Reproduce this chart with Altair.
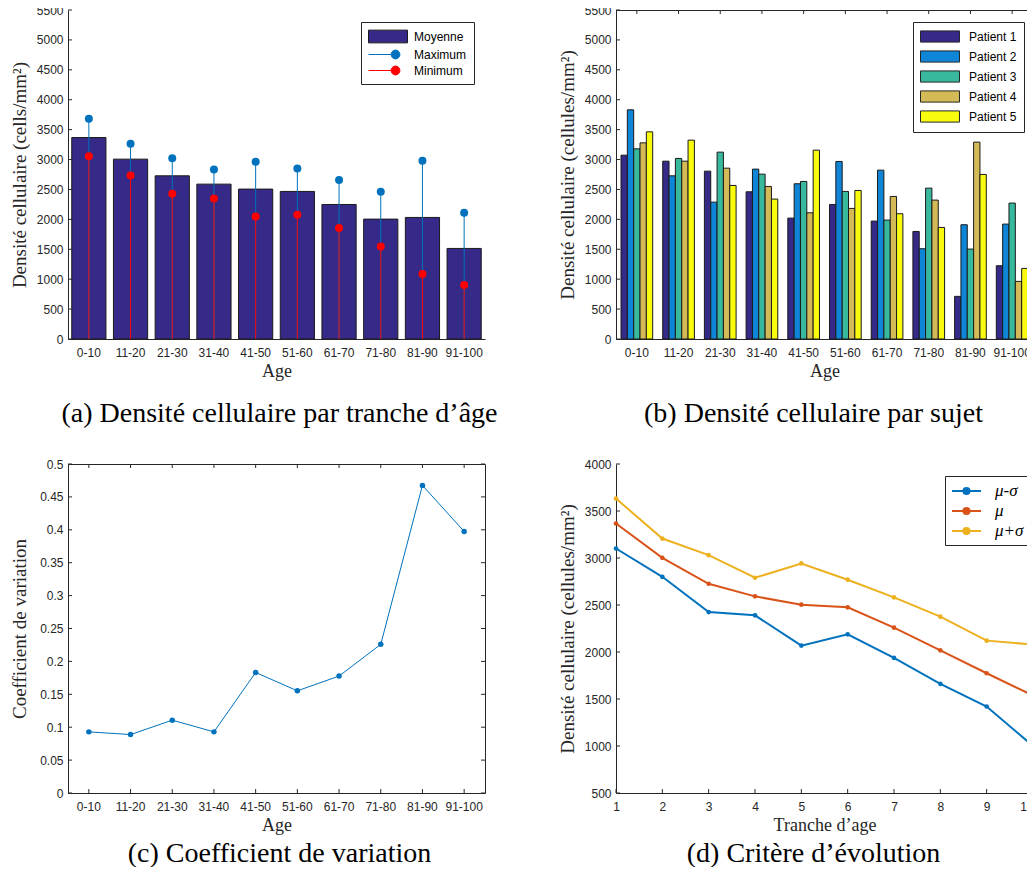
import altair as alt
import pandas as pd

# ---------------- data ----------------
ages = ["0-10", "11-20", "21-30", "31-40", "41-50", "51-60", "61-70", "71-80", "81-90", "91-100"]

moyenne = [3368, 3007, 2728, 2589, 2506, 2467, 2249, 2004, 2032, 1514]
maximum = [3680, 3263, 3023, 2834, 2962, 2851, 2656, 2461, 2979, 2110]
minimum = [3057, 2734, 2428, 2350, 2049, 2077, 1854, 1548, 1086, 902]

patients = ["Patient 1", "Patient 2", "Patient 3", "Patient 4", "Patient 5"]
p1 = [3073, 2973, 2806, 2461, 2021, 2249, 1971, 1798, 713, 1225]
p2 = [3831, 2728, 2288, 2840, 2595, 2968, 2823, 1509, 1910, 1921]
p3 = [3179, 3018, 3124, 2756, 2634, 2467, 1988, 2522, 1503, 2272]
p4 = [3279, 2973, 2856, 2550, 2110, 2183, 2383, 2322, 3291, 963]
p5 = [3463, 3324, 2567, 2339, 3157, 2483, 2094, 1865, 2751, 1180]

cv = [0.0929, 0.0888, 0.1107, 0.0929, 0.1832, 0.1553, 0.1777, 0.2259, 0.4675, 0.3975]

tranches = [1, 2, 3, 4, 5, 6, 7, 8, 9, 10]
mu_moins = [3101, 2800, 2425, 2390, 2068, 2188, 1937, 1661, 1420, 1000]
mu = [3367, 3002, 2726, 2592, 2503, 2475, 2259, 2018, 1774, 1537]
mu_plus = [3632, 3207, 3030, 2790, 2942, 2769, 2581, 2376, 2121, 2079]

series_a = ["Moyenne", "Maximum", "Minimum"]
series_d = ["μ-σ", "μ", "μ+σ"]

yticks_a = list(range(0, 5501, 500))
yticks_c = [round(0.05 * i, 2) for i in range(11)]
yticks_d = list(range(500, 4001, 500))

# ---------------- style ----------------
AX = "#262626"
W, H = 417, 329
SANS = "Liberation Sans"
SERIF = "Liberation Serif"
TL = 4  # inward tick length

PARULA5 = ["#352a87", "#0f85d7", "#38b99e", "#d4ba56", "#f9fb0e"]
BLUE, ORANGE, YELLOW = "#0072bd", "#d95319", "#edb120"
COLS_D = [BLUE, ORANGE, YELLOW]

# legend symbol paths (unit = sqrt(symbolSize)/2 px), extending to the right of the nominal square
RECT_A = "M-1,-0.91L4.57,-0.91L4.57,0.91L-1,0.91Z"
STEM = "M-1,0L2.86,0M3.49,0A0.63,0.63 0 1 1 2.23,0A0.63,0.63 0 1 1 3.49,0Z"
RECT_B = "M-1,-0.8L4.57,-0.8L4.57,0.8L-1,0.8Z"
LINEDOT = "M-1,0L2.63,0M1.19,0A0.38,0.38 0 1 1 0.43,0A0.38,0.38 0 1 1 1.19,0Z"


def xaxis(title, **kw):
    return alt.Axis(title=title, labelAngle=0, ticks=False, labelPadding=8,
                    titlePadding=4, titleFontSize=18, **kw)


def yaxis(title, values, **kw):
    return alt.Axis(title=title, values=values, ticks=False, labelPadding=5,
                    titlePadding=7, titleFontSize=19, minExtent=32, maxExtent=32, **kw)


def left_ticks(vals, scale, ax):
    d = pd.DataFrame({"t": vals})
    return alt.Chart(d).mark_rule(color=AX, strokeWidth=1).encode(
        y=alt.Y("t:Q", scale=scale, axis=ax), x=alt.value(0), x2=alt.value(TL))


def right_ticks(vals, scale, ax):
    d = pd.DataFrame({"t": vals})
    return alt.Chart(d).mark_rule(color=AX, strokeWidth=1).encode(
        y=alt.Y("t:Q", scale=scale, axis=ax), x=alt.value(W), x2=alt.value(W - TL))


def top_ticks(vals, scale, ax, typ="N"):
    d = pd.DataFrame({"t": vals})
    return alt.Chart(d).mark_rule(color=AX, strokeWidth=1).encode(
        x=alt.X(f"t:{typ}", scale=scale, axis=ax, sort=None), y=alt.value(0), y2=alt.value(TL))


def bottom_ticks(vals, scale, ax, typ="N"):
    d = pd.DataFrame({"t": vals})
    return alt.Chart(d).mark_rule(color=AX, strokeWidth=1).encode(
        x=alt.X(f"t:{typ}", scale=scale, axis=ax, sort=None), y=alt.value(H), y2=alt.value(H - TL))


def caption(text, dx, offset):
    return alt.TitleParams(text=text, orient="bottom", anchor="middle", frame="group",
                           font=SERIF, fontSize=28, fontWeight="normal", color="black",
                           offset=offset, dx=dx)


# ---------------- panel (a) ----------------
df_a = pd.DataFrame({"age": ages, "moyenne": moyenne, "maximum": maximum, "minimum": minimum})
xs_a = alt.Scale(domain=ages, paddingInner=0.18, paddingOuter=0.09)
ys_a = alt.Scale(domain=[0, 5500], nice=False)
xa_a = xaxis("Age")
ya_a = yaxis("Densité cellulaire (cells/mm²)", yticks_a, format="d")

bars_a = alt.Chart(df_a).mark_bar(color="#352a87", stroke="#1a1a1a", strokeWidth=1).encode(
    x=alt.X("age:N", scale=xs_a, sort=ages, axis=xa_a),
    y=alt.Y("moyenne:Q", scale=ys_a, axis=ya_a))
stem_max = alt.Chart(df_a).mark_rule(color=BLUE, strokeWidth=1).encode(
    x=alt.X("age:N", scale=xs_a, sort=ages, axis=xa_a),
    y=alt.Y("maximum:Q", scale=ys_a, axis=ya_a), y2=alt.datum(0))
stem_min = alt.Chart(df_a).mark_rule(color="#ff0000", strokeWidth=1).encode(
    x=alt.X("age:N", scale=xs_a, sort=ages, axis=xa_a),
    y=alt.Y("minimum:Q", scale=ys_a, axis=ya_a), y2=alt.datum(0))
dot_max = alt.Chart(df_a).mark_circle(color=BLUE, size=64, opacity=1).encode(
    x=alt.X("age:N", scale=xs_a, sort=ages, axis=xa_a),
    y=alt.Y("maximum:Q", scale=ys_a, axis=ya_a))
dot_min = alt.Chart(df_a).mark_circle(color="#ff0000", size=64, opacity=1).encode(
    x=alt.X("age:N", scale=xs_a, sort=ages, axis=xa_a),
    y=alt.Y("minimum:Q", scale=ys_a, axis=ya_a))

leg_a = alt.Legend(title=None, orient="none", legendX=293, legendY=12, symbolSize=196,
                   symbolOpacity=1, symbolStrokeWidth=1, labelFont=SANS, labelFontSize=12,
                   labelColor="black", labelOffset=31, padding=7, rowPadding=2,
                   fillColor="white", strokeColor=AX, cornerRadius=0)
legend_layer_a = alt.Chart(pd.DataFrame({"serie": series_a})).mark_point(filled=True, opacity=0).encode(
    x=alt.value(W / 2), y=alt.value(H / 2),
    fill=alt.Fill("serie:N", scale=alt.Scale(domain=series_a, range=["#352a87", BLUE, "#ff0000"]),
                  legend=leg_a, sort=series_a),
    stroke=alt.Stroke("serie:N", scale=alt.Scale(domain=series_a, range=["#1a1a1a", BLUE, "#ff0000"]),
                      legend=leg_a, sort=series_a),
    shape=alt.Shape("serie:N", scale=alt.Scale(domain=series_a, range=[RECT_A, STEM, STEM]),
                    legend=leg_a, sort=series_a))

chart_a = alt.layer(bars_a, stem_max, stem_min, dot_max, dot_min, left_ticks(yticks_a, ys_a, ya_a),
                    legend_layer_a).properties(
    width=W, height=H, title=caption("(a) Densité cellulaire par tranche d’âge", 3, 20))

# ---------------- panel (b) ----------------
rows_b = []
for i, a in enumerate(ages):
    for name, vals in zip(patients, [p1, p2, p3, p4, p5]):
        rows_b.append({"age": a, "patient": name, "val": vals[i]})
df_b = pd.DataFrame(rows_b)
xs_b = alt.Scale(domain=ages, paddingInner=0.24, paddingOuter=0.12)
ys_b = alt.Scale(domain=[0, 5500], nice=False)
xa_b = xaxis("Age")
ya_b = yaxis("Densité cellulaire (cellules/mm²)", yticks_a, format="d")

bars_b = alt.Chart(df_b).mark_bar(stroke="#1a1a1a", strokeWidth=1).encode(
    x=alt.X("age:N", scale=xs_b, sort=ages, axis=xa_b),
    xOffset=alt.XOffset("patient:N", sort=patients, scale=alt.Scale(paddingInner=0, paddingOuter=0)),
    y=alt.Y("val:Q", scale=ys_b, axis=ya_b),
    color=alt.Color("patient:N", sort=patients,
                    scale=alt.Scale(domain=patients, range=PARULA5),
                    legend=alt.Legend(title=None, orient="none", legendX=297, legendY=12,
                                      symbolType=RECT_B, symbolSize=196, symbolStrokeColor=AX,
                                      symbolStrokeWidth=1, symbolOpacity=1, labelFont=SANS,
                                      labelFontSize=12, labelColor="black", labelOffset=34,
                                      padding=7, rowPadding=3, fillColor="white",
                                      strokeColor=AX, cornerRadius=0)))

chart_b = alt.layer(bars_b, left_ticks(yticks_a, ys_b, ya_b), right_ticks(yticks_a, ys_b, ya_b),
                    top_ticks(ages, xs_b, xa_b)).properties(
    width=W, height=H, view=alt.ViewBackground(stroke=AX, strokeWidth=1),
    title=caption("(b) Densité cellulaire par sujet", -11, 20))

# ---------------- panel (c) ----------------
df_c = pd.DataFrame({"age": ages, "cv": cv})
xs_c = alt.Scale(domain=ages, paddingInner=0, paddingOuter=0)
ys_c = alt.Scale(domain=[0, 0.5], nice=False)
xa_c = xaxis("Age")
ya_c = yaxis("Coefficient de variation", yticks_c, format=".2~f")
line_c = alt.Chart(df_c).mark_line(color=BLUE, strokeWidth=1).encode(
    x=alt.X("age:N", scale=xs_c, sort=ages, axis=xa_c),
    y=alt.Y("cv:Q", scale=ys_c, axis=ya_c))
pts_c = alt.Chart(df_c).mark_circle(color=BLUE, size=30, opacity=1).encode(
    x=alt.X("age:N", scale=xs_c, sort=ages, axis=xa_c),
    y=alt.Y("cv:Q", scale=ys_c, axis=ya_c))
chart_c = alt.layer(line_c, pts_c, left_ticks(yticks_c, ys_c, ya_c), right_ticks(yticks_c, ys_c, ya_c),
                    top_ticks(ages, xs_c, xa_c), bottom_ticks(ages, xs_c, xa_c)).properties(
    width=W, height=H, view=alt.ViewBackground(stroke=AX, strokeWidth=1),
    title=caption("(c) Coefficient de variation", 3, 6))

# ---------------- panel (d) ----------------
rows_d = []
for name, vals in zip(series_d, [mu_moins, mu, mu_plus]):
    for t, v in zip(tranches, vals):
        rows_d.append({"tranche": t, "courbe": name, "val": v})
df_d = pd.DataFrame(rows_d)
xs_d = alt.Scale(domain=[1, 10], nice=False, zero=False)
ys_d = alt.Scale(domain=[500, 4000], nice=False, zero=False)
xa_d = xaxis("Tranche d’age", values=tranches, format="d",
              labelAlign={"condition": {"test": "datum.value == 10", "value": "right"}, "value": "center"})
ya_d = yaxis("Densité cellulaire (cellules/mm²)", yticks_d, format="d")

layers_d = []
for name, col in zip(series_d, COLS_D):
    base = alt.Chart(df_d).transform_filter(alt.datum.courbe == name)
    layers_d.append(base.mark_line(strokeWidth=2, color=col).encode(
        x=alt.X("tranche:Q", scale=xs_d, axis=xa_d),
        y=alt.Y("val:Q", scale=ys_d, axis=ya_d)))
    layers_d.append(base.mark_circle(size=22, opacity=1, color=col).encode(
        x=alt.X("tranche:Q", scale=xs_d, axis=xa_d),
        y=alt.Y("val:Q", scale=ys_d, axis=ya_d)))

leg_d = alt.Legend(title=None, orient="none", legendX=329, legendY=12, symbolSize=256,
                   symbolOpacity=1, symbolStrokeWidth=2, labelFont=SERIF, labelFontStyle="italic",
                   labelFontSize=17, labelColor="black", labelOffset=26, padding=6, rowPadding=3,
                   fillColor="white", strokeColor=AX, cornerRadius=0)
legend_layer_d = alt.Chart(pd.DataFrame({"serie": series_d})).mark_point(filled=True, opacity=0).encode(
    x=alt.value(W / 2), y=alt.value(H / 2),
    fill=alt.Fill("serie:N", scale=alt.Scale(domain=series_d, range=COLS_D),
                  legend=leg_d, sort=series_d),
    stroke=alt.Stroke("serie:N", scale=alt.Scale(domain=series_d, range=COLS_D),
                      legend=leg_d, sort=series_d),
    shape=alt.Shape("serie:N", scale=alt.Scale(domain=series_d, range=[LINEDOT, LINEDOT, LINEDOT]),
                    legend=leg_d, sort=series_d))

chart_d = alt.layer(*layers_d, left_ticks(yticks_d, ys_d, ya_d),
                    bottom_ticks(tranches, xs_d, xa_d, "Q"), legend_layer_d).properties(
    width=W, height=H, title=caption("(d) Critère d’évolution", -11, 6))

# ---------------- layout ----------------
RES = dict(color="independent", fill="independent", stroke="independent", shape="independent")
chart = alt.concat(
    chart_a, chart_b, chart_c, chart_d,
    columns=2, spacing=alt.RowColnumber(row=125, column=131), bounds="flush",
).resolve_scale(**RES).properties(
    padding={"left": 1, "top": -5, "right": -11, "bottom": -2}
).configure_axis(
    labelFont=SANS, labelFontSize=12, labelColor=AX,
    titleFont=SERIF, titleFontWeight="normal", titleColor=AX,
    domainColor=AX, domainWidth=1, grid=False,
).configure_view(stroke="transparent")

chart.save("out.html", embed_options={"renderer": "svg", "actions": False})
